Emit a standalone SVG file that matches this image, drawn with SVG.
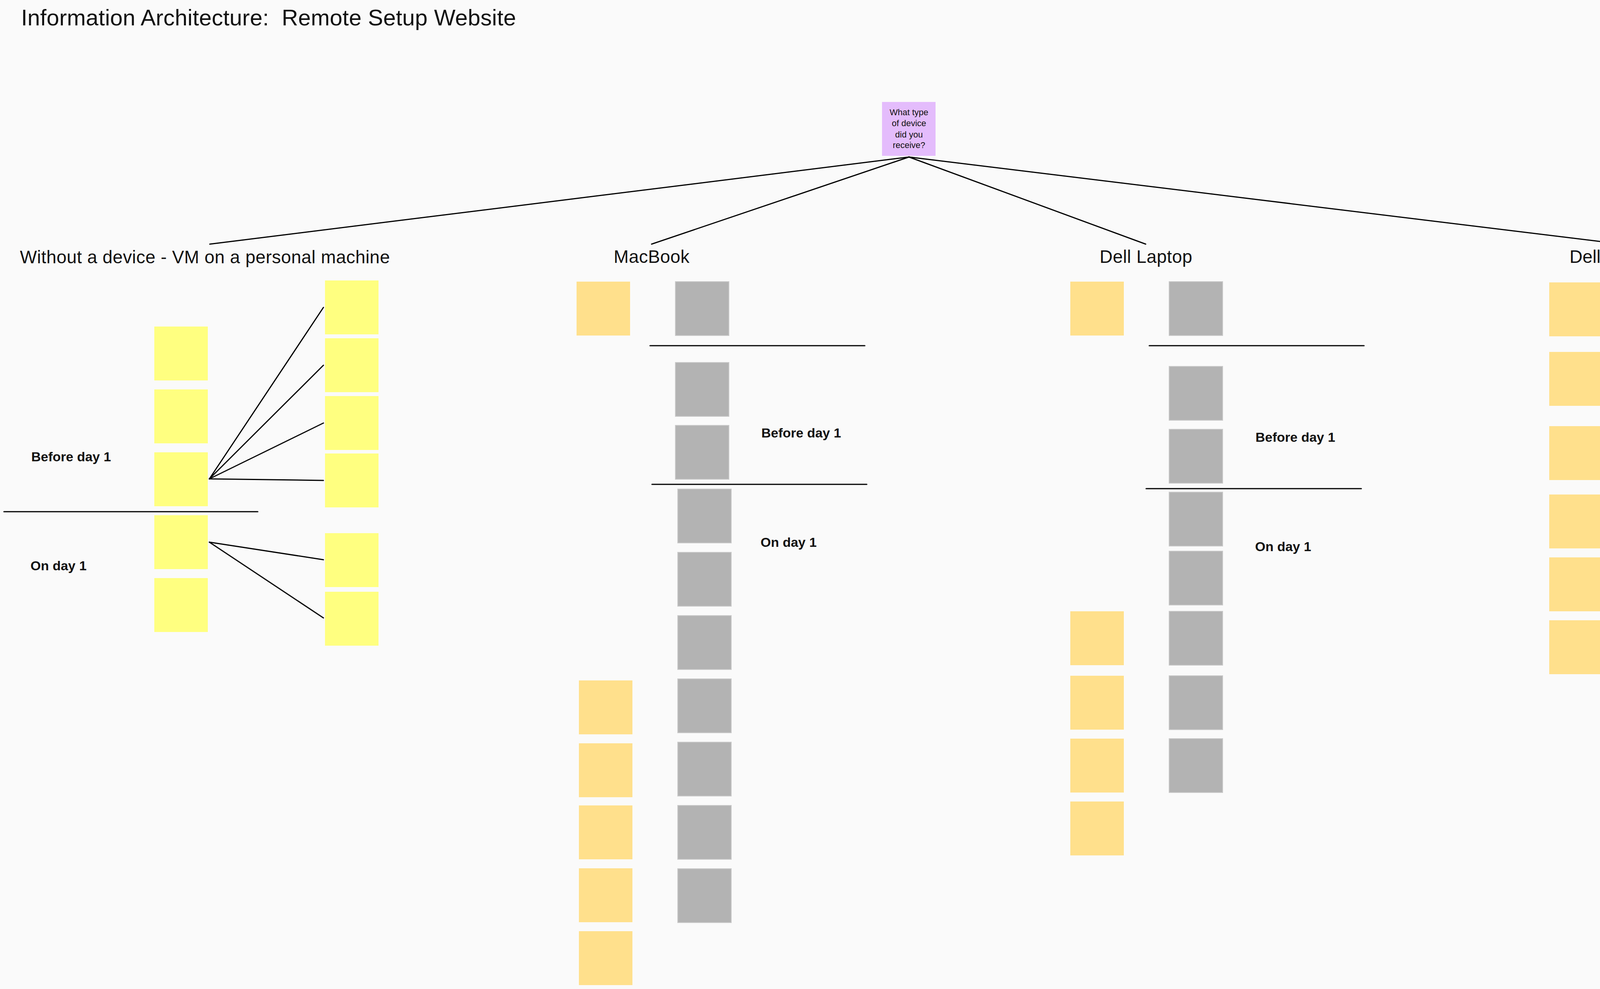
<svg xmlns="http://www.w3.org/2000/svg" width="4367" height="2532" viewBox="0 0 4367 2532">
<style>
.y{fill:#ffff80}
.o{fill:#ffe08c}
.g{fill:#b3b3b3;stroke:#c9c9c9;stroke-width:2}
.p{fill:#e4bcfc}
.ln{stroke:#000;stroke-width:3;fill:none;stroke-linecap:round}
.t{font-family:"Liberation Sans",Arial,sans-serif;fill:#111}
.h{font-size:46px}
.b{font-size:34px;font-weight:bold}
.r{font-size:22px;text-anchor:middle}
</style>
<rect x="0" y="0" width="4367" height="2532" fill="#fafafa"/>
<text class="t" x="54" y="65" font-size="58" xml:space="preserve" style="white-space:pre" textLength="1267" lengthAdjust="spacing">Information Architecture:  Remote Setup Website</text>

<g id="connectors">
<line class="ln" x1="2327" y1="402" x2="537" y2="625"/>
<line class="ln" x1="2327" y1="402" x2="1668" y2="625"/>
<line class="ln" x1="2327" y1="402" x2="2933" y2="625"/>
<line class="ln" x1="2327" y1="402" x2="4152" y2="625"/>
<line class="ln" x1="536" y1="1226" x2="828" y2="787"/>
<line class="ln" x1="536" y1="1226" x2="828" y2="935"/>
<line class="ln" x1="536" y1="1226" x2="828" y2="1083"/>
<line class="ln" x1="536" y1="1226" x2="828" y2="1230"/>
<line class="ln" x1="536" y1="1388" x2="828" y2="1433"/>
<line class="ln" x1="536" y1="1388" x2="828" y2="1582"/>
</g>

<g id="dividers">
<line class="ln" x1="10" y1="1310" x2="660" y2="1310"/>
<line class="ln" x1="1664" y1="885" x2="2214" y2="885"/>
<line class="ln" x1="1669" y1="1240" x2="2219" y2="1240"/>
<line class="ln" x1="2942" y1="885" x2="3492" y2="885"/>
<line class="ln" x1="2934" y1="1251" x2="3485" y2="1251"/>
</g>

<g id="root">
<rect class="p" x="2258" y="261" width="137" height="138"/>
<text class="t r" x="2327" y="295">What type</text>
<text class="t r" x="2327" y="323">of device</text>
<text class="t r" x="2327" y="352">did you</text>
<text class="t r" x="2327" y="379">receive?</text>
</g>

<g id="labels">
<text class="t h" x="51" y="674" textLength="947" lengthAdjust="spacing">Without a device - VM on a personal machine</text>
<text class="t h" x="1571" y="673" textLength="194" lengthAdjust="spacing">MacBook</text>
<text class="t h" x="2815" y="673" textLength="237" lengthAdjust="spacing">Dell Laptop</text>
<text class="t h" x="4018" y="673" textLength="269" lengthAdjust="spacing">Dell MicroPC</text>
<text class="t b" x="80" y="1181">Before day 1</text>
<text class="t b" x="78" y="1460">On day 1</text>
<text class="t b" x="1949" y="1120">Before day 1</text>
<text class="t b" x="1947" y="1400">On day 1</text>
<text class="t b" x="3214" y="1131">Before day 1</text>
<text class="t b" x="3213" y="1411">On day 1</text>
</g>

<g id="vm-a1"><rect class="y" x="395" y="836" width="137" height="138"/></g>
<g id="vm-a2"><rect class="y" x="395" y="997" width="137" height="138"/></g>
<g id="vm-a3"><rect class="y" x="395" y="1158" width="137" height="138"/></g>
<g id="vm-a4"><rect class="y" x="395" y="1319" width="137" height="138"/></g>
<g id="vm-a5"><rect class="y" x="395" y="1480" width="137" height="138"/></g>
<g id="vm-b1"><rect class="y" x="832" y="718" width="137" height="138"/></g>
<g id="vm-b2"><rect class="y" x="832" y="866" width="137" height="138"/></g>
<g id="vm-b3"><rect class="y" x="832" y="1014" width="137" height="138"/></g>
<g id="vm-b4"><rect class="y" x="832" y="1161" width="137" height="138"/></g>
<g id="vm-b5"><rect class="y" x="832" y="1365" width="137" height="138"/></g>
<g id="vm-b6"><rect class="y" x="832" y="1515" width="137" height="138"/></g>

<g id="mac-o1"><rect class="o" x="1476" y="721" width="137" height="138"/></g>
<g id="mac-o2"><rect class="o" x="1482" y="1742" width="137" height="138"/></g>
<g id="mac-o3"><rect class="o" x="1482" y="1903" width="137" height="138"/></g>
<g id="mac-o4"><rect class="o" x="1482" y="2062" width="137" height="138"/></g>
<g id="mac-o5"><rect class="o" x="1482" y="2223" width="137" height="138"/></g>
<g id="mac-o6"><rect class="o" x="1482" y="2384" width="137" height="138"/></g>
<g id="mac-g1"><rect class="g" x="1729" y="721" width="137" height="138"/></g>
<g id="mac-g2"><rect class="g" x="1729" y="928" width="137" height="138"/></g>
<g id="mac-g3"><rect class="g" x="1729" y="1089" width="137" height="138"/></g>
<g id="mac-g4"><rect class="g" x="1735" y="1252" width="137" height="138"/></g>
<g id="mac-g5"><rect class="g" x="1735" y="1414" width="137" height="138"/></g>
<g id="mac-g6"><rect class="g" x="1735" y="1576" width="137" height="138"/></g>
<g id="mac-g7"><rect class="g" x="1735" y="1738" width="137" height="138"/></g>
<g id="mac-g8"><rect class="g" x="1735" y="1900" width="137" height="138"/></g>
<g id="mac-g9"><rect class="g" x="1735" y="2062" width="137" height="138"/></g>
<g id="mac-g10"><rect class="g" x="1735" y="2224" width="137" height="138"/></g>

<g id="dell-o1"><rect class="o" x="2740" y="721" width="137" height="138"/></g>
<g id="dell-o2"><rect class="o" x="2740" y="1565" width="137" height="138"/></g>
<g id="dell-o3"><rect class="o" x="2740" y="1730" width="137" height="138"/></g>
<g id="dell-o4"><rect class="o" x="2740" y="1891" width="137" height="138"/></g>
<g id="dell-o5"><rect class="o" x="2740" y="2052" width="137" height="138"/></g>
<g id="dell-g1"><rect class="g" x="2993" y="721" width="137" height="138"/></g>
<g id="dell-g2"><rect class="g" x="2993" y="938" width="137" height="138"/></g>
<g id="dell-g3"><rect class="g" x="2993" y="1099" width="137" height="138"/></g>
<g id="dell-g4"><rect class="g" x="2993" y="1260" width="137" height="138"/></g>
<g id="dell-g5"><rect class="g" x="2993" y="1411" width="137" height="138"/></g>
<g id="dell-g6"><rect class="g" x="2993" y="1565" width="137" height="138"/></g>
<g id="dell-g7"><rect class="g" x="2993" y="1730" width="137" height="138"/></g>
<g id="dell-g8"><rect class="g" x="2993" y="1891" width="137" height="138"/></g>

<g id="micro-o1"><rect class="o" x="3966" y="723" width="137" height="138"/></g>
<g id="micro-o2"><rect class="o" x="3966" y="901" width="137" height="138"/></g>
<g id="micro-o3"><rect class="o" x="3966" y="1091" width="137" height="138"/></g>
<g id="micro-o4"><rect class="o" x="3966" y="1266" width="137" height="138"/></g>
<g id="micro-o5"><rect class="o" x="3966" y="1427" width="137" height="138"/></g>
<g id="micro-o6"><rect class="o" x="3966" y="1588" width="137" height="138"/></g>
<g id="micro-g1"><rect class="g" x="4212" y="721" width="137" height="138"/></g>
<g id="micro-g2"><rect class="g" x="4219" y="899" width="137" height="138"/></g>
<g id="micro-g3"><rect class="g" x="4212" y="1091" width="137" height="138"/></g>
</svg>
